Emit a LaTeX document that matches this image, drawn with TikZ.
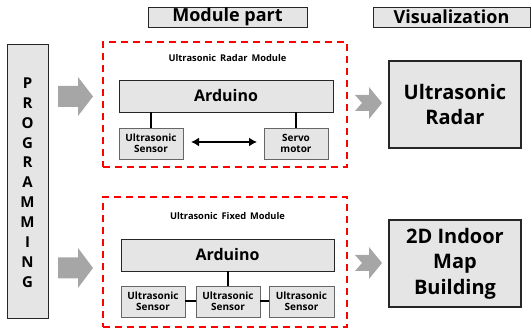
\documentclass[tikz,border=0pt]{standalone}
\usepackage{fontspec}
\setmainfont{Open Sans}
\usetikzlibrary{arrows.meta}
\begin{document}
\begin{tikzpicture}[x=1pt,y=-1pt,
  box/.style={draw=black!85,fill=black!10,line width=0.9pt,inner sep=0pt,align=center,font=\bfseries},
  small/.style={draw=black!60,fill=black!10,line width=0.9pt,inner sep=0pt,align=center,font=\bfseries\fontsize{10}{11.5}\selectfont},
  reddash/.style={draw=red,line width=1.6pt,dash pattern=on 7pt off 5pt},
  garrow/.style={fill=black!35,draw=none},
  link/.style={line width=2pt,black}]
\useasboundingbox (0,0) rectangle (531,331);
% headers
\node[box,minimum width=159,minimum height=20,font=\bfseries\fontsize{18}{19}\selectfont] (mod) at (227.5,17) {Module part};
\node[box,minimum width=157,minimum height=20,font=\bfseries\fontsize{18}{19}\selectfont] (vis) at (451.5,17) {Visualization};
% programming
\node[box,minimum width=41,minimum height=274] (prog) at (27.5,181) {};
\foreach \l [count=\i from 0] in {P,R,O,G,R,A,M,M,I,N,G}
  \node[font=\bfseries\fontsize{15}{16}\selectfont,inner sep=0pt] (p\i) at (27.5,83+19.9*\i) {\l};
% red boxes
\node[reddash,minimum width=244,minimum height=125] (top) at (225,104.5) {};
\node[reddash,minimum width=244,minimum height=130] (bot) at (225,262) {};
\node[font=\bfseries\fontsize{9.3}{10}\selectfont,inner sep=0pt] (toplab) at (227.5,58) {Ultrasonic\hspace{1.5pt} Radar\hspace{1.5pt} Module};
\node[font=\bfseries\fontsize{9.3}{10}\selectfont,inner sep=0pt] (botlab) at (227.5,216) {Ultrasonic\hspace{1.5pt} Fixed\hspace{1.5pt} Module};
% top module
\node[box,minimum width=214,minimum height=32,font=\bfseries\fontsize{16}{17}\selectfont] (ard1) at (226,96) {Arduino};
\node[small,minimum width=64,minimum height=31] (us1) at (151,143.5) {Ultrasonic\\[-1pt]Sensor};
\node[small,minimum width=64,minimum height=31] (servo) at (296,143.5) {Servo\\[-1pt]motor};
\draw[link] (us1.north) -- (us1.north|-ard1.south);
\draw[link] (servo.north) -- (servo.north|-ard1.south);
\coordinate (da) at (191,142);
\coordinate (db) at (257,142);
\draw[line width=2pt,{Latex[length=8pt,width=9pt]}-{Latex[length=8pt,width=9pt]}] (da) -- (db);
% bottom module
\node[box,minimum width=213,minimum height=32,font=\bfseries\fontsize{16}{17}\selectfont] (ard2) at (227.5,255) {Arduino};
\node[small,minimum width=64,minimum height=31] (s1) at (153,301.5) {Ultrasonic\\[-1pt]Sensor};
\node[small,minimum width=64,minimum height=31] (s2) at (228,301.5) {Ultrasonic\\[-1pt]Sensor};
\node[small,minimum width=65,minimum height=31] (s3) at (301.5,301.5) {Ultrasonic\\[-1pt]Sensor};
\draw[link] (s2.north) -- (s2.north|-ard2.south);
\draw[link] (s1.east) -- (s2.west);
\draw[link] (s2.east) -- (s3.west);
% result boxes
\node[box,line width=1.6pt,minimum width=132,minimum height=87,font=\bfseries\fontsize{20}{25}\selectfont] (radar) at (455,104.5) {Ultrasonic\\Radar};
\node[box,line width=1.6pt,minimum width=132,minimum height=87,font=\bfseries\fontsize{20}{25.5}\selectfont] (map) at (455,263.5) {2D Indoor\\Map\\Building};
% big arrows
\fill[garrow] (58,86) -- (78,86) -- (78,77) -- (93,96.5) -- (78,116) -- (78,107) -- (58,107) -- cycle;
\fill[garrow] (58,257.5) -- (78,257.5) -- (78,248) -- (93,268) -- (78,288) -- (78,278.5) -- (58,278.5) -- cycle;
\fill[garrow] (355,95) -- (369,95) -- (369,87) -- (382,103) -- (369,119) -- (369,111) -- (355,111) -- (362,103) -- cycle;
\fill[garrow] (355,255) -- (369,255) -- (369,247) -- (382,263) -- (369,279) -- (369,271) -- (355,271) -- (362,263) -- cycle;
\end{tikzpicture}
\end{document}
